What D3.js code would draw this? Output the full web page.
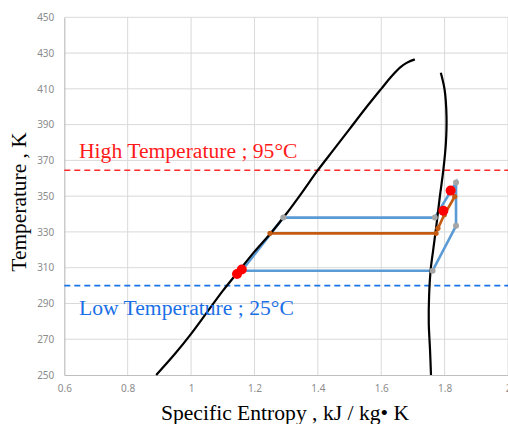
<!DOCTYPE html>
<html>
<head>
<meta charset="utf-8">
<script src="https://cdn.jsdelivr.net/npm/d3@7"></script>
<style>
  body { margin: 0; background: #fff; }
  svg { display: block; }
</style>
</head>
<body>
<div id="chart"></div>
<script>
// T-s diagram data (entropy kJ/kg.K, temperature K)
const xTicks = [0.6, 0.8, 1.0, 1.2, 1.4, 1.6, 1.8, 2.0];
const yTicks = [250, 270, 290, 310, 330, 350, 370, 390, 410, 430, 450];

// saturated liquid line
const liquidLine = [
  [0.89, 250], [0.95, 262], [1.0, 273], [1.05, 285], [1.10, 297], [1.15, 308],
  [1.20, 319], [1.25, 329], [1.30, 340], [1.35, 352], [1.40, 364.5], [1.45, 376],
  [1.50, 387.5], [1.55, 399], [1.60, 410], [1.63, 416.5], [1.66, 422], [1.68, 424.5],
  [1.706, 426.5]
];

// saturated vapour line
const vapourLine = [
  [1.788, 419], [1.800, 409.5], [1.806, 394.5], [1.804, 379.6], [1.796, 364.7],
  [1.785, 349.8], [1.775, 335], [1.764, 320], [1.756, 308.8], [1.751, 294],
  [1.750, 279], [1.754, 264], [1.757, 250]
];

// cycles
const blueCycle = [
  [1.16, 308.3], [1.762, 308.3], [1.836, 333.4], [1.836, 357.6],
  [1.769, 338], [1.291, 338], [1.16, 308.3]
];
const orangeCycle = [
  [1.249, 329.2], [1.773, 329.2], [1.779, 332], [1.799, 339.6], [1.832, 349.8]
];
const redPoints = [[1.145, 306.5], [1.16, 309], [1.796, 341.8], [1.819, 353.1]];

const highT = 364.5, lowT = 300;

const W = 508, H = 424;
const svg = d3.select("#chart").append("svg")
  .attr("width", W).attr("height", H);

const x = d3.scaleLinear().domain([0.6, 2.0]).range([64.3, 508]);
const y = d3.scaleLinear().domain([250, 450]).range([375, 17.3]);

// gridlines
svg.append("g")
  .selectAll("line.hg")
  .data(yTicks.slice(1))
  .join("line")
  .attr("x1", x(0.6)).attr("x2", x(2.0))
  .attr("y1", d => y(d)).attr("y2", d => y(d))
  .attr("stroke", "#d9d9d9").attr("stroke-width", 1);

svg.append("g")
  .selectAll("line.vg")
  .data(xTicks.slice(1))
  .join("line")
  .attr("x1", d => x(d)).attr("x2", d => x(d))
  .attr("y1", y(250)).attr("y2", y(450))
  .attr("stroke", "#d9d9d9").attr("stroke-width", 1);

// axes
const yAxis = svg.append("g")
  .attr("transform", `translate(${x(0.6)},0)`)
  .call(d3.axisLeft(y).tickValues(yTicks).tickSize(0).tickPadding(10));
const xAxis = svg.append("g")
  .attr("transform", `translate(0,${y(250)})`)
  .call(d3.axisBottom(x).tickValues(xTicks).tickSize(0).tickPadding(10)
    .tickFormat(d => d === 1 || d === 2 ? d3.format("d")(d) : d3.format(".1f")(d)));

[xAxis, yAxis].forEach(g => {
  g.select(".domain").attr("stroke", "#bfbfbf").attr("stroke-width", 1.2);
  g.selectAll("text")
    .attr("fill", "#8c8c8c")
    .style("font-family", "'Noto Sans', sans-serif")
    .style("font-size", "10px");
});

// reference temperatures
svg.append("line")
  .attr("x1", x(0.6)).attr("x2", x(2.0))
  .attr("y1", y(highT)).attr("y2", y(highT))
  .attr("stroke", "#ff2a2a").attr("stroke-width", 1.6)
  .attr("stroke-dasharray", "6,4");
svg.append("line")
  .attr("x1", x(0.6)).attr("x2", x(2.0))
  .attr("y1", y(lowT)).attr("y2", y(lowT))
  .attr("stroke", "#1a73e8").attr("stroke-width", 1.6)
  .attr("stroke-dasharray", "6,4");

const line = d3.line().x(d => x(d[0])).y(d => y(d[1]));
const smooth = d3.line().x(d => x(d[0])).y(d => y(d[1])).curve(d3.curveCatmullRom);

// cycles
svg.append("path").datum(blueCycle)
  .attr("d", line).attr("fill", "none")
  .attr("stroke", "#5b9bd5").attr("stroke-width", 2.6);
svg.append("path").datum(orangeCycle)
  .attr("d", line).attr("fill", "none")
  .attr("stroke", "#c55a11").attr("stroke-width", 2.6);

// saturation dome
[liquidLine, vapourLine].forEach(pts => {
  svg.append("path").datum(pts)
    .attr("d", smooth).attr("fill", "none")
    .attr("stroke", "#000").attr("stroke-width", 2.2);
});

// markers
svg.append("g").selectAll("circle")
  .data(blueCycle.slice(1, -1))
  .join("circle")
  .attr("cx", d => x(d[0])).attr("cy", d => y(d[1])).attr("r", 3)
  .attr("fill", "#a5a5a5");
svg.append("g").selectAll("circle")
  .data(orangeCycle)
  .join("circle")
  .attr("cx", d => x(d[0])).attr("cy", d => y(d[1])).attr("r", 2.6)
  .attr("fill", "#c55a11");
svg.append("g").selectAll("circle")
  .data(redPoints)
  .join("circle")
  .attr("cx", d => x(d[0])).attr("cy", d => y(d[1])).attr("r", 5)
  .attr("fill", "#ff0000");

// labels
const serif = "'Liberation Serif', 'Times New Roman', serif";
svg.append("text")
  .attr("x", 79).attr("y", 157.5)
  .attr("fill", "#ff1a1a")
  .style("font-family", serif).style("font-size", "21.6px")
  .text("High Temperature ; 95°C");
svg.append("text")
  .attr("x", 79).attr("y", 314.5)
  .attr("fill", "#1a6fe6")
  .style("font-family", serif).style("font-size", "21.6px")
  .text("Low Temperature ; 25°C");

svg.append("text")
  .attr("transform", "translate(26,202) rotate(-90)")
  .attr("text-anchor", "middle")
  .attr("fill", "#000")
  .style("font-family", serif).style("font-size", "21.4px")
  .text("Temperature , K");
svg.append("text")
  .attr("x", 285).attr("y", 420)
  .attr("text-anchor", "middle")
  .attr("fill", "#000")
  .style("font-family", serif).style("font-size", "21.6px")
  .text("Specific Entropy , kJ / kg• K");
</script>
</body>
</html>
